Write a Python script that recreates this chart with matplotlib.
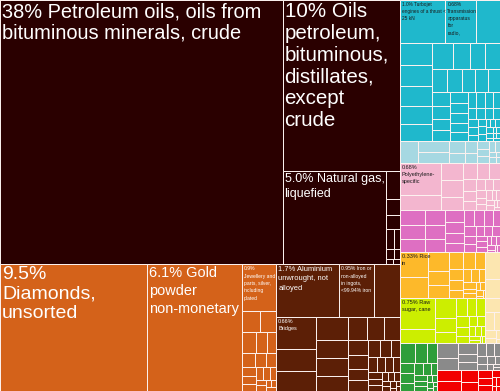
import matplotlib
matplotlib.use("Agg")
import matplotlib.pyplot as plt
from matplotlib.patches import Rectangle

# export shares (%) per product, one list per section
fuel = [38.0, 10.2, 4.9, 0.2, 0.12, 0.1, 0.08, 0.06, 0.04, 0.03, 0.02, 0.02]
precious = [9.5, 6.1, 0.82, 0.2, 0.17, 0.15, 0.12, 0.1, 0.1, 0.08, 0.07, 0.06,
            0.06, 0.05, 0.05, 0.04, 0.04, 0.03, 0.03, 0.02, 0.02, 0.02]
metals = [1.7, 0.95, 0.7, 0.65, 0.45, 0.4, 0.36, 0.3, 0.28, 0.25, 0.22, 0.2,
          0.18, 0.16, 0.14, 0.12, 0.11, 0.1, 0.09, 0.08, 0.07, 0.06, 0.06, 0.05,
          0.05, 0.04, 0.04, 0.03, 0.03, 0.03, 0.02, 0.02, 0.02, 0.01, 0.01, 0.01]
machinery = [1.0, 0.68, 0.52, 0.36, 0.34, 0.32, 0.3, 0.28, 0.27, 0.22, 0.2, 0.19,
             0.18, 0.17, 0.16, 0.15, 0.14, 0.13, 0.12, 0.11, 0.1, 0.1, 0.09, 0.09,
             0.08, 0.08, 0.07, 0.07, 0.06, 0.06, 0.05, 0.05, 0.05, 0.04, 0.04, 0.04,
             0.03, 0.03, 0.03, 0.03, 0.02, 0.02, 0.02, 0.02, 0.02,
             0.01, 0.01, 0.01, 0.01, 0.01, 0.01]
instruments = [0.2, 0.18, 0.16, 0.1, 0.08, 0.07, 0.06, 0.05, 0.04, 0.04, 0.03,
               0.03, 0.02, 0.02, 0.01, 0.01]
plastics = [0.68, 0.3, 0.2, 0.18, 0.15, 0.12, 0.1, 0.09, 0.08, 0.07, 0.06, 0.05,
            0.05, 0.04, 0.04, 0.03, 0.03, 0.03, 0.02, 0.02, 0.02, 0.02, 0.01, 0.01, 0.01]
chemicals = [0.2, 0.18, 0.17, 0.15, 0.14, 0.13, 0.12, 0.11, 0.1, 0.09, 0.08, 0.08,
             0.07, 0.06, 0.06, 0.05, 0.05, 0.04, 0.04, 0.04, 0.03, 0.03, 0.03,
             0.02, 0.02, 0.02, 0.02, 0.01, 0.01, 0.01]
vegetable = [0.36, 0.3, 0.2, 0.16, 0.14, 0.12, 0.1, 0.09, 0.08, 0.07, 0.06, 0.05,
             0.05, 0.04, 0.04, 0.03, 0.03, 0.02, 0.02, 0.02, 0.01, 0.01]
food = [0.56, 0.25, 0.2, 0.15, 0.12, 0.1, 0.09, 0.08, 0.07, 0.06, 0.05, 0.04,
        0.04, 0.03, 0.03, 0.02, 0.02, 0.02, 0.01, 0.01]
animal = [0.2, 0.15, 0.1, 0.08, 0.06, 0.04, 0.03, 0.02, 0.01]
textiles = [0.15, 0.12, 0.1, 0.08, 0.07, 0.06, 0.05, 0.05, 0.04, 0.04, 0.03, 0.03,
            0.02, 0.02, 0.02, 0.01, 0.01, 0.01]
stone = [0.16, 0.12, 0.1, 0.08, 0.07, 0.06, 0.05, 0.04, 0.04, 0.03, 0.03, 0.02,
         0.02, 0.01, 0.01]
misc = [0.14, 0.12, 0.1, 0.08, 0.06, 0.05, 0.04, 0.03, 0.02, 0.02, 0.01, 0.01]

values = {'fuel': fuel, 'precious': precious, 'metals': metals,
          'machinery': machinery, 'instruments': instruments,
          'plastics': plastics, 'chemicals': chemicals, 'vegetable': vegetable,
          'food': food, 'animal': animal, 'textiles': textiles,
          'stone': stone, 'misc': misc}

# labels for the biggest products (key = section, index in sorted list)
labels = {
    ('fuel', 0): "38% Petroleum oils, oils from\nbituminous minerals, crude",
    ('fuel', 1): "10% Oils\npetroleum,\nbituminous,\ndistillates,\nexcept\ncrude",
    ('fuel', 2): "5.0% Natural gas,\nliquefied",
    ('precious', 0): "9.5%\nDiamonds,\nunsorted",
    ('precious', 1): "6.1% Gold\npowder\nnon-monetary",
    ('precious', 2): "0.9%\nJewellery and\nparts, silver,\nincluding\nplated",
    ('metals', 0): "1.7% Aluminium\nunwrought, not\nalloyed",
    ('metals', 1): "0.95% Iron or\nnon-alloyed\nin ingots,\n<99.94% iron",
    ('metals', 3): "0.66%\nBridges",
    ('machinery', 0): "1.0% Turbojet\nengines of a thrust <\n25 kN",
    ('machinery', 1): "0.68%\nTransmission\napparatus\nfor\nradio,",
    ('plastics', 0): "0.68%\nPolyethylene-\nspecific",
    ('vegetable', 0): "0.33% Rice\nin",
    ('food', 0): "0.75% Raw\nsugar, cane",
}

# grouping of sections used for the nested layout
tree = [['fuel', ['precious', 'metals']],
        [['machinery', 'instruments'], ['plastics', 'chemicals'],
         [['vegetable', 'food', 'animal'], ['textiles', ['stone', 'misc']]]]]

colors = {'fuel': '#2a0000', 'precious': '#d4621a', 'metals': '#5c1f06',
          'machinery': '#1fb8cc', 'instruments': '#a6d8e2',
          'plastics': '#f3b6cf', 'chemicals': '#de6fc2', 'vegetable': '#fdb92a',
          'food': '#ccee00', 'animal': '#fce6b0', 'textiles': '#2e9e3a',
          'stone': '#8a8a8a', 'misc': '#f20000'}
dark_text = {'machinery', 'instruments', 'plastics', 'chemicals', 'vegetable',
             'food', 'animal'}

# font size (px) and line spacing per label
label_style = {
    ('fuel', 0): (20, 1.15), ('fuel', 1): (20.5, 1.18), ('fuel', 2): (12.5, 1.35),
    ('precious', 0): (19.5, 1.2), ('precious', 1): (14.5, 1.35),
    ('precious', 2): (5, 1.6), ('metals', 0): (7.5, 1.45),
    ('metals', 1): (5, 1.6), ('metals', 3): (5.5, 1.5),
    ('machinery', 0): (4.8, 1.5), ('machinery', 1): (5, 1.5),
    ('plastics', 0): (5.5, 1.5), ('vegetable', 0): (5.5, 1.5),
    ('food', 0): (5.5, 1.5),
}

W, H = 500, 391
PHI = (1 + 5 ** 0.5) / 2
FONT = ['Liberation Sans', 'DejaVu Sans']


def squarify(vals, x0, y0, x1, y1, ratio=PHI):
    # d3-style squarified layout, returns (x, y, w, h) for each value
    rects = [None] * len(vals)
    value = sum(vals)
    n = len(vals)
    i0 = 0
    while i0 < n:
        dx, dy = x1 - x0, y1 - y0
        i1 = i0 + 1
        sumv = minv = maxv = vals[i0]
        alpha = max(dy / dx, dx / dy) / (value * ratio)
        beta = sumv * sumv * alpha
        minratio = max(maxv / beta, beta / minv)
        while i1 < n:
            v = vals[i1]
            s = sumv + v
            beta = s * s * alpha
            newratio = max(max(maxv, v) / beta, beta / min(minv, v))
            if newratio > minratio:
                break
            sumv, minratio = s, newratio
            minv, maxv = min(minv, v), max(maxv, v)
            i1 += 1
        if dx < dy:
            yb = y0 + dy * sumv / value
            x = x0
            for k in range(i0, i1):
                w = dx * vals[k] / sumv
                rects[k] = (x, y0, w, yb - y0)
                x += w
            y0 = yb
        else:
            xb = x0 + dx * sumv / value
            y = y0
            for k in range(i0, i1):
                h = dy * vals[k] / sumv
                rects[k] = (x0, y, xb - x0, h)
                y += h
            x0 = xb
        value -= sumv
        i0 = i1
    return rects


def total(node):
    if isinstance(node, str):
        return sum(values[node])
    return sum(total(c) for c in node)


def draw_section(ax, name, rect):
    x, y, w, h = rect
    vals = sorted(values[name], reverse=True)
    for i, r in enumerate(squarify(vals, x, y, x + w, y + h)):
        ax.add_patch(Rectangle((r[0], r[1]), r[2], r[3], facecolor=colors[name],
                               edgecolor='#fdf2f0', linewidth=0.7))
        if (name, i) in labels:
            px, ls = label_style[(name, i)]
            ax.text(r[0] + 2, r[1] + 2, labels[(name, i)], fontsize=px * 0.72,
                    family=FONT, linespacing=ls, va='top', ha='left',
                    color='#1a1a1a' if name in dark_text else 'white')


def place(ax, node, rect):
    if isinstance(node, str):
        draw_section(ax, node, rect)
        return
    x, y, w, h = rect
    sub = squarify([total(c) for c in node], x, y, x + w, y + h)
    for child, r in zip(node, sub):
        place(ax, child, r)


fig = plt.figure(figsize=(W / 100, H / 100), dpi=100)
ax = fig.add_axes([0, 0, 1, 1])
ax.set_xlim(0, W)
ax.set_ylim(H, 0)
ax.axis('off')
place(ax, tree, (0, 0, W, H))
fig.savefig('out.png', dpi=100, facecolor='white')
